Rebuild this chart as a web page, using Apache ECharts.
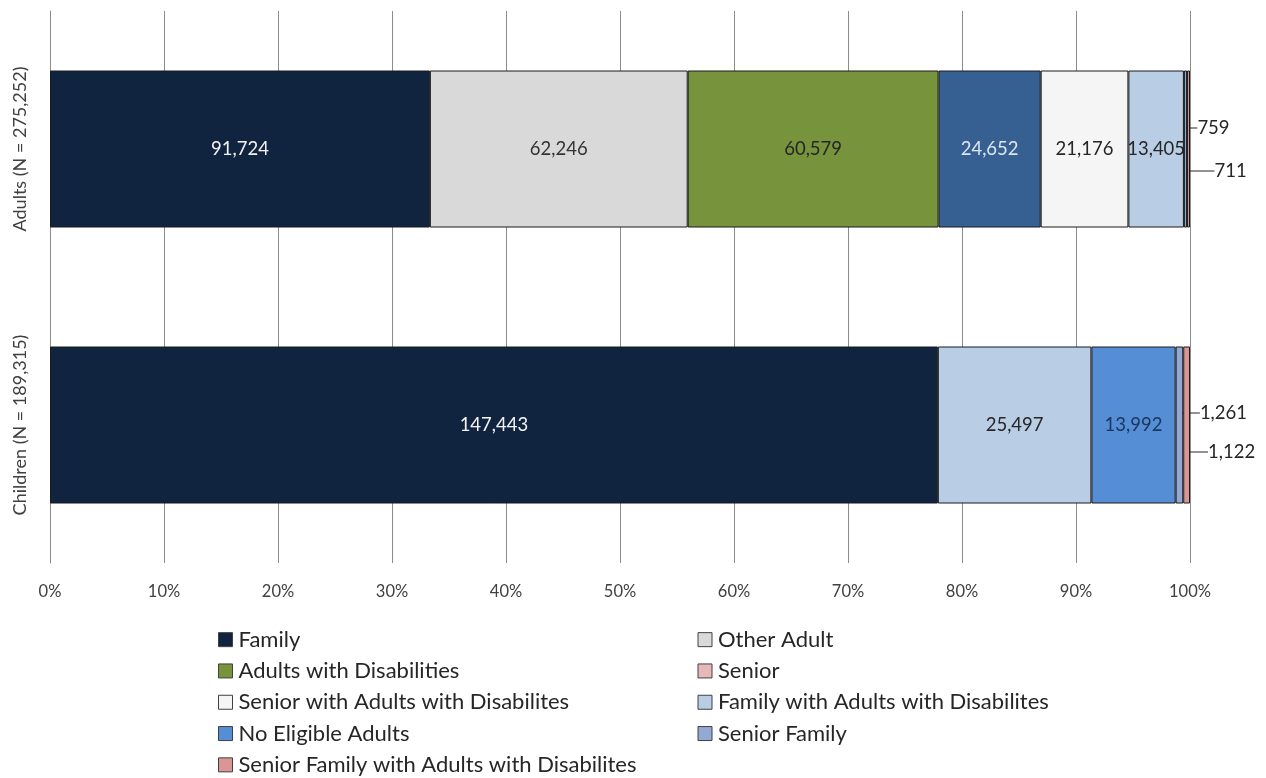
<!DOCTYPE html>
<html>
<head>
<meta charset="utf-8">
<script src="https://cdn.jsdelivr.net/npm/echarts@6/dist/echarts.min.js"></script>
<style>
html,body{margin:0;padding:0;background:#fff;}
#chart{width:1266px;height:778px;}
</style>
</head>
<body>
<div id="chart"></div>
<script>
const categories = ['Adults (N = 275,252)', 'Children (N = 189,315)'];
const tickLabels = ['0%','10%','20%','30%','40%','50%','60%','70%','80%','90%','100%'];
const seriesNames = ['Family','Other Adult','Adults with Disabilities','Senior','Senior with Adults with Disabilites','Family with Adults with Disabilites','No Eligible Adults','Senior Family','Senior Family with Adults with Disabilites'];
// counts per series: [Adults, Children]
const family = [91724, 147443];
const otherAdult = [62246, null];
const adultsWithDisabilities = [60579, null];
const senior = [24652, null];
const seniorWithAwD = [21176, null];
const familyWithAwD = [13405, 25497];
const noEligibleAdults = [null, 13992];
const seniorFamily = [759, 1261];
const seniorFamilyWithAwD = [711, 1122];

const counts = [family, otherAdult, adultsWithDisabilities, senior, seniorWithAwD, familyWithAwD, noEligibleAdults, seniorFamily, seniorFamilyWithAwD];
const totals = categories.map((c, i) => counts.reduce((s, arr) => s + (arr[i] || 0), 0));

const legendColors = ['#11243f','#d9d9d9','#77933c','#e6b9b8','#f5f5f5','#b9cde5','#558ed5','#93a9d3','#d99694'];
const barColorOverride = {3: '#376092'};
const labelColors = ['#f2f2f2','#333333','#262626','#dce6f2','#262626','#262626','#17375e','#262626','#262626'];

// leader-line label offsets for tiny segments (seriesIndex -> [ [dx,dy] adults, [dx,dy] children ])
const smallOffsets = {
  7: [[28, -21], [44, -12]],
  8: [[42, 22], [45, 27]]
};

const FONT = 'Lato, "Open Sans", sans-serif';

const series = counts.map((arr, si) => ({
  name: seriesNames[si],
  type: 'bar',
  stack: 'total',
  barWidth: 157,
  itemStyle: {color: legendColors[si], borderColor: '#1a1a1a', borderWidth: 1},
  data: arr.map((v, ci) => {
    if (v == null) return null;
    const item = {value: v / totals[ci] * 100};
    if (barColorOverride[si]) item.itemStyle = {color: barColorOverride[si]};
    return item;
  }),
  label: {
    show: true,
    position: 'inside',
    fontFamily: FONT,
    fontSize: 18.5,
    color: smallOffsets[si] ? '#262626' : labelColors[si],
    formatter: p => {
      const v = counts[p.seriesIndex][p.dataIndex];
      return v == null ? '' : v.toLocaleString('en-US');
    }
  },
  labelLine: smallOffsets[si] ? {show: true, length2: 0, lineStyle: {color: '#262626', width: 1}} : {show: false},
  labelLayout: smallOffsets[si] ? (p => {
    const o = smallOffsets[si][p.dataIndex];
    return {dx: o[0], dy: o[1]};
  }) : undefined,
  emphasis: {disabled: true}
}));

const chart = echarts.init(document.getElementById('chart'), null, {renderer: 'canvas'});
chart.setOption({
  animation: false,
  backgroundColor: '#ffffff',
  grid: {left: 50, right: 76, top: 11, bottom: 215, containLabel: false},
  xAxis: {
    type: 'value', min: 0, max: 100, interval: 10,
    axisLine: {show: false}, axisTick: {show: false},
    splitLine: {show: true, lineStyle: {color: '#8c8c8c', width: 1}},
    axisLabel: {
      margin: 20, fontFamily: FONT, fontSize: 16.5, color: '#404040',
      formatter: v => tickLabels[Math.round(v / 10)]
    }
  },
  yAxis: {
    type: 'category', data: categories, inverse: true,
    axisLine: {show: true, lineStyle: {color: '#8c8c8c'}},
    axisTick: {show: false},
    axisLabel: {rotate: 90, margin: 21, fontFamily: FONT, fontSize: 18, color: '#404040'}
  },
  legend: {
    left: 218, top: 624, width: 1000, padding: 0,
    orient: 'horizontal',
    itemWidth: 14, itemHeight: 14, itemGap: 0,
    icon: 'rect',
    itemStyle: {borderColor: '#404040', borderWidth: 1},
    textStyle: {fontFamily: FONT, fontSize: 22, color: '#262626', width: 459, lineHeight: 31.3, padding: [0,0,0,1]},
    data: seriesNames
  },
  series: series
});
</script>
</body>
</html>
